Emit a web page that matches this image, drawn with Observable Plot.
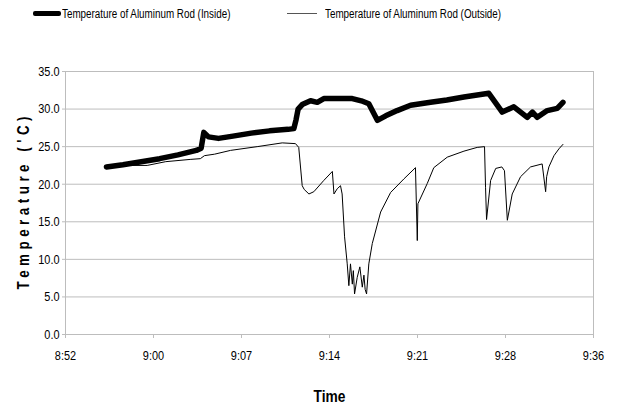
<!DOCTYPE html>
<html>
<head>
<meta charset="utf-8">
<script src="https://cdn.jsdelivr.net/npm/d3@7"></script>
<script src="https://cdn.jsdelivr.net/npm/@observablehq/plot@0.6"></script>
<style>
  html, body { margin: 0; padding: 0; background: #fff; }
  body { width: 617px; height: 412px; overflow: hidden; position: relative;
         font-family: "Liberation Sans", Arial, sans-serif; }
  #legend { position: relative; height: 30px; font-size: 12.3px; color: #000; }
  .sw { position: absolute; background: #000; }
  .lt { position: absolute; top: 7px; white-space: nowrap; transform: scaleX(0.8); transform-origin: 0 50%; }
  #chart svg { display: block; }
</style>
</head>
<body>
<div id="legend"></div>
<div id="chart"></div>
<script>
// ---- data ----
const seriesNames = ["Temperature of Aluminum Rod (Inside)", "Temperature of Aluminum Rod (Outside)"];

const insideTimes = ["8:56:09","8:57:30","8:59:00","9:00:30","9:02:00","9:03:30","9:03:54","9:04:07","9:04:30","9:05:19","9:06:30","9:08:00","9:09:30","9:11:00","9:11:29","9:11:40","9:11:50","9:12:10","9:12:51","9:13:24","9:13:56","9:15:00","9:16:16","9:17:00","9:17:37","9:18:19","9:19:00","9:19:56","9:21:02","9:22:40","9:24:00","9:25:24","9:27:26","9:28:32","9:29:29","9:30:35","9:31:00","9:31:24","9:32:13","9:33:02","9:33:30"];
const insideTemps = [22.3,22.6,23.0,23.4,23.9,24.5,24.8,26.9,26.3,26.1,26.4,26.8,27.1,27.3,27.4,28.6,30.0,30.6,31.1,30.9,31.4,31.4,31.4,31.1,30.7,28.5,29.1,29.8,30.5,30.9,31.2,31.6,32.1,29.6,30.3,28.9,29.6,28.9,29.8,30.1,30.9];

const outsideTimes = ["8:56:09","8:58:00","8:59:29","9:01:00","9:03:00","9:03:50","9:04:10","9:05:00","9:06:18","9:08:29","9:10:32","9:11:37","9:11:53","9:12:10","9:12:20","9:12:43","9:13:07","9:13:56","9:14:38","9:14:46","9:15:02","9:15:18","9:15:26","9:15:38","9:15:51","9:15:59","9:16:07","9:16:16","9:16:21","9:16:27","9:16:40","9:16:53","9:17:05","9:17:13","9:17:19","9:17:26","9:17:37","9:17:54","9:18:35","9:19:24","9:20:29","9:21:26","9:21:35","9:21:38","9:22:24","9:22:56","9:24:02","9:25:24","9:26:29","9:27:05","9:27:10","9:27:15","9:27:35","9:28:00","9:28:30","9:28:43","9:28:57","9:29:21","9:30:02","9:30:51","9:31:48","9:32:05","9:32:10","9:32:21","9:32:46","9:33:10","9:33:30"];
const outsideTemps = [22.2,22.5,22.5,23.0,23.3,23.4,23.8,24.0,24.5,25.0,25.5,25.4,24.9,19.8,19.3,18.7,19.0,20.5,21.7,18.7,19.4,19.8,18.7,13.0,9.4,6.5,9.4,6.7,8.5,5.4,7.6,9.0,6.3,7.9,6.0,5.4,9.4,12.1,16.3,18.9,20.7,22.2,12.5,17.4,20.1,22.2,23.6,24.4,24.9,25.0,19.6,15.3,20.5,22.1,22.3,21.8,15.2,18.7,21.0,22.3,22.7,19.0,21.0,22.3,23.8,24.7,25.3];

const yTicks = [0, 5, 10, 15, 20, 25, 30, 35];
const xTickTimes = ["8:52:48","9:00:00","9:07:12","9:14:24","9:21:36","9:28:48","9:36:00"];
const xTickLabels = ["8:52","9:00","9:07","9:14","9:21","9:28","9:36"];
const xTitle = "Time";
const yTitle = "Temperature ('C)";

// ---- helpers ----
function t(s) {
  const [h, m, sec = 0] = s.split(":").map(Number);
  return new Date(Date.UTC(2000, 0, 1, h, m, sec));
}
const inside = insideTimes.map((s, i) => ({time: t(s), temp: insideTemps[i]}));
const outside = outsideTimes.map((s, i) => ({time: t(s), temp: outsideTemps[i]}));
const xTicks = xTickTimes.map(t);
const xDomain = [xTicks[0], xTicks[xTicks.length - 1]];
const grid = "#bdbdbd";
const narrow = 0.81;

// ---- legend ----
const legend = document.getElementById("legend");
legend.innerHTML = `
  <div class="sw" style="left:33px; top:11px; width:28px; height:5px; border-radius:2px;"></div>
  <div class="lt" style="left:62px;">${seriesNames[0]}</div>
  <div class="sw" style="left:287px; top:13px; width:30px; height:1px; background:#555;"></div>
  <div class="lt" style="left:325px;">${seriesNames[1]}</div>`;

// ---- chart ----
const chart = Plot.plot({
  width: 617,
  height: 382,
  marginLeft: 65,
  marginRight: 24,
  marginTop: 41,
  marginBottom: 78,
  style: {fontFamily: '"Liberation Sans", Arial, sans-serif', fontSize: "13.5px", color: "#000", background: "#fff"},
  x: {type: "utc", domain: xDomain, label: null},
  y: {domain: [0, 35], label: null},
  marks: [
    Plot.gridY(yTicks, {stroke: grid, strokeOpacity: 1}),
    Plot.ruleX([xDomain[1]], {stroke: grid}),
    Plot.ruleX([xDomain[0]], {stroke: grid}),
    Plot.ruleY([0], {stroke: grid}),
    Plot.axisY(yTicks, {tickSize: 3, tickPadding: 3, stroke: grid, tickFormat: d3.format(".1f"), fill: "#000"}),
    Plot.axisX(xTicks, {tickSize: 4, tickPadding: 12, stroke: grid, tickFormat: (d, i) => xTickLabels[i], fill: "#000"}),
    Plot.lineY(outside, {x: "time", y: "temp", stroke: "#000", strokeWidth: 1}),
    Plot.lineY(inside, {x: "time", y: "temp", stroke: "#000", strokeWidth: 5.5, strokeLinejoin: "round", strokeLinecap: "round"}),
    Plot.text([xTitle], {frameAnchor: "bottom", dy: 67, fontWeight: "bold", fontSize: 17, fill: "#000"}),
    Plot.text([yTitle], {frameAnchor: "left", textAnchor: "middle", dx: -42, rotate: -90, fontWeight: "bold", fontSize: 16.5, fill: "#000"})
  ]
});
document.getElementById("chart").append(chart);

// narrow (Arial Narrow-like) glyphs: squeeze every text horizontally around its own anchor
d3.select(chart).selectAll("text").each(function() {
  const tr = this.getAttribute("transform") || "";
  const xa = this.getAttribute("x");
  let x = 0;
  if (xa !== null && /^-?[\d.]+$/.test(xa)) { x = +xa; this.removeAttribute("x"); }
  this.setAttribute("transform", `${tr} translate(${x},0) scale(${narrow},1)`);
});
// widely spaced y title
d3.select(chart).selectAll("text")
  .filter(function() { return this.textContent === yTitle; })
  .attr("textLength", 173 / narrow)
  .attr("lengthAdjust", "spacing");
</script>
</body>
</html>
